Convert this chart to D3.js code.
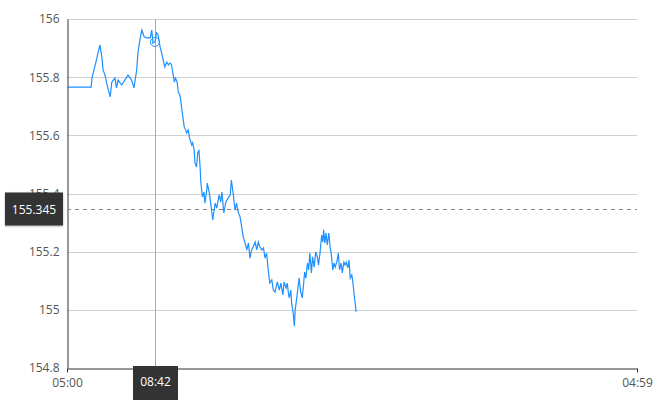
<!DOCTYPE html>
<html>
<head>
<meta charset="utf-8">
<script src="https://cdn.jsdelivr.net/npm/d3@7"></script>
<style>
  body { margin: 0; background: #fff; }
  text { font-family: "Open Sans", sans-serif; }
</style>
</head>
<body>
<div id="chart"></div>
<script>
//------------------------------------------------------------------------------
// Data
//------------------------------------------------------------------------------

var day = "2020-01-01";
var startTime = "05:00", endTime = "04:59";

var times = [
	"05:00","06:01","06:03","06:13","06:23","06:28","06:31","06:36","06:40","06:49",
	"06:53","07:01","07:05","07:09","07:18","07:26","07:34","07:43","07:49","07:56",
	"07:59","08:04","08:09","08:15","08:21","08:30","08:34","08:37","08:42","08:46",
	"08:50","08:55","08:59","09:03","09:07","09:12","09:16","09:20","09:24","09:28",
	"09:31","09:34","09:38","09:41","09:45","09:48","09:51","09:56","10:00","10:02",
	"10:06","10:09","10:11","10:15","10:17","10:21","10:23","10:27","10:30","10:33",
	"10:36","10:38","10:42","10:46","10:48","10:53","10:54","10:59","11:04","11:08",
	"11:14","11:18","11:24","11:28","11:31","11:36","11:41","11:47","11:52","11:55",
	"12:00","12:04","12:08","12:12","12:17","12:21","12:25","12:29","12:34","12:38",
	"12:42","12:46","12:50","12:55","12:59","13:03","13:07","13:12","13:16","13:20",
	"13:24","13:28","13:32","13:37","13:41","13:45","13:51","13:56","14:00","14:05",
	"14:08","14:13","14:16","14:19","14:21","14:25","14:27","14:31","14:34","14:36",
	"14:40","14:43","14:46","14:50","14:54","14:57","15:00","15:03","15:07","15:10",
	"15:13","15:17","15:20","15:24","15:28","15:32","15:35","15:39","15:43","15:46",
	"15:48","15:51","15:54","15:57","16:01","16:04","16:07","16:11","16:14","16:17",
	"16:21","16:25","16:28","16:32","16:35","16:39","16:42","16:45","16:49","16:52",
	"16:55","16:59","17:01","17:05","17:08","17:10"
];

var prices = [
	155.766,155.766,155.797,155.852,155.911,155.869,155.825,155.807,155.780,155.732,
	155.783,155.797,155.763,155.790,155.773,155.790,155.807,155.790,155.763,155.825,
	155.883,155.928,155.962,155.938,155.935,155.935,155.962,155.917,155.921,155.952,
	155.945,155.904,155.883,155.859,155.835,155.852,155.842,155.849,155.842,155.807,
	155.783,155.797,155.783,155.749,155.739,155.711,155.677,155.629,155.618,155.608,
	155.618,155.594,155.584,155.567,155.574,155.550,155.505,155.491,155.539,155.550,
	155.491,155.436,155.388,155.405,155.367,155.412,155.436,155.405,155.354,155.309,
	155.367,155.350,155.395,155.371,155.405,155.333,155.371,155.385,155.395,155.446,
	155.395,155.343,155.367,155.336,155.319,155.285,155.250,155.233,155.206,155.230,
	155.178,155.206,155.216,155.233,155.206,155.233,155.216,155.206,155.213,155.178,
	155.195,155.137,155.092,155.103,155.068,155.061,155.096,155.068,155.092,155.051,
	155.096,155.075,155.092,155.058,155.041,155.068,155.024,154.989,154.944,154.999,
	155.041,155.075,155.109,155.061,155.041,155.085,155.130,155.109,155.161,155.137,
	155.195,155.127,155.182,155.147,155.199,155.182,155.154,155.199,155.257,155.233,
	155.275,155.230,155.264,155.223,155.264,155.216,155.195,155.137,155.161,155.147,
	155.164,155.195,155.137,155.161,155.127,155.164,155.154,155.164,155.144,155.171,
	155.109,155.120,155.103,155.051,155.017,154.993
];

var yTicks = [154.8, 155, 155.2, 155.4, 155.6, 155.8, 156];
var refPrice = 155.345;
var cursorTime = "08:42";

//------------------------------------------------------------------------------
// Chart
//------------------------------------------------------------------------------

function draw_chart() {
	var width = 670, height = 400;
	var margin = {left: 67, right: 33, top: 19, bottom: 32};

	var parse = d3.timeParse("%Y-%m-%d %H:%M");
	var t0 = parse(day + " " + startTime);
	var t1 = d3.timeMinute.offset(t0, 1439);

	var data = times.map(function(t, i) {
		return {date: parse(day + " " + t), value: prices[i]};
	});

	var svg = d3.select("#chart")
		.append("svg")
		.attr("width", width)
		.attr("height", height);

	var x = d3.scaleTime()
		.domain([t0, t1])
		.range([margin.left, width - margin.right]);

	var y = d3.scaleLinear()
		.domain([154.8, 156])
		.range([height - margin.bottom, margin.top]);

	// grid lines
	svg.append("g")
		.selectAll("line")
		.data(yTicks.slice(1))
		.enter().append("line")
		.attr("x1", x.range()[0])
		.attr("x2", x.range()[1])
		.attr("y1", function(d) { return Math.round(y(d)) + 0.5; })
		.attr("y2", function(d) { return Math.round(y(d)) + 0.5; })
		.attr("stroke", "#d0d0d0")
		.attr("stroke-width", 1);

	// y axis
	var yAxis = d3.axisLeft(y)
		.tickValues(yTicks)
		.tickSize(0)
		.tickPadding(8)
		.tickFormat(function(d) { return d3.format("")(+d.toFixed(1)); });

	var gy = svg.append("g")
		.attr("transform", "translate(" + (margin.left + 0.5) + ",0)")
		.call(yAxis);
	gy.select(".domain").attr("stroke", "#333");
	gy.selectAll("text").attr("fill", "#555").style("font-size", "12px");

	// x axis
	var xAxis = d3.axisBottom(x)
		.tickValues([t0, t1])
		.tickSize(4)
		.tickSizeOuter(0)
		.tickPadding(6)
		.tickFormat(d3.timeFormat("%H:%M"));

	var gx = svg.append("g")
		.attr("transform", "translate(0," + (Math.round(y(154.8)) + 0.5) + ")")
		.call(xAxis);
	gx.select(".domain").attr("stroke", "#333");
	gx.selectAll(".tick line").attr("stroke", "#333");
	gx.selectAll("text").attr("fill", "#555").style("font-size", "12px");

	// reference price line
	svg.append("line")
		.attr("x1", x.range()[0])
		.attr("x2", x.range()[1])
		.attr("y1", Math.round(y(refPrice)) + 0.5)
		.attr("y2", Math.round(y(refPrice)) + 0.5)
		.attr("stroke", "#888")
		.attr("stroke-dasharray", "4,4");

	// cursor line
	var cx = Math.round(x(parse(day + " " + cursorTime))) + 0.5;
	svg.append("line")
		.attr("x1", cx).attr("x2", cx)
		.attr("y1", y.range()[1])
		.attr("y2", y.range()[0])
		.attr("stroke", "#aaa");

	// price line
	var line = d3.line()
		.x(function(d) { return x(d.date); })
		.y(function(d) { return y(d.value); });

	svg.append("path")
		.datum(data)
		.attr("fill", "none")
		.attr("stroke", "#1e90ff")
		.attr("stroke-width", 1.2)
		.attr("d", line);

	// cursor marker
	var cur = data.filter(function(d) { return d3.timeFormat("%H:%M")(d.date) === cursorTime; })[0];
	svg.append("circle")
		.attr("cx", x(cur.date))
		.attr("cy", y(cur.value))
		.attr("r", 4.5)
		.attr("fill", "none")
		.attr("stroke", "#1e90ff")
		.attr("stroke-width", 1);

	// price label
	var py = y(refPrice);
	var pl = svg.append("g");
	pl.append("rect")
		.attr("x", 5).attr("y", py - 17)
		.attr("width", 58).attr("height", 33)
		.attr("fill", "#333")
		.style("filter", "drop-shadow(0px 1px 1px rgba(0,0,0,0.3))");
	pl.append("text")
		.attr("x", 34).attr("y", py)
		.attr("dy", "0.35em")
		.attr("text-anchor", "middle")
		.attr("fill", "#fff")
		.style("font-size", "12px")
		.text(d3.format(".3f")(refPrice));

	// time label
	var tl = svg.append("g");
	tl.append("rect")
		.attr("x", cx - 22.5).attr("y", y.range()[0] - 2)
		.attr("width", 45).attr("height", 40)
		.attr("fill", "#333");
	tl.append("text")
		.attr("x", cx).attr("y", y.range()[0] + 14)
		.attr("dy", "0.35em")
		.attr("text-anchor", "middle")
		.attr("fill", "#fff")
		.style("font-size", "12px")
		.text(cursorTime);
}

draw_chart();
</script>
</body>
</html>
